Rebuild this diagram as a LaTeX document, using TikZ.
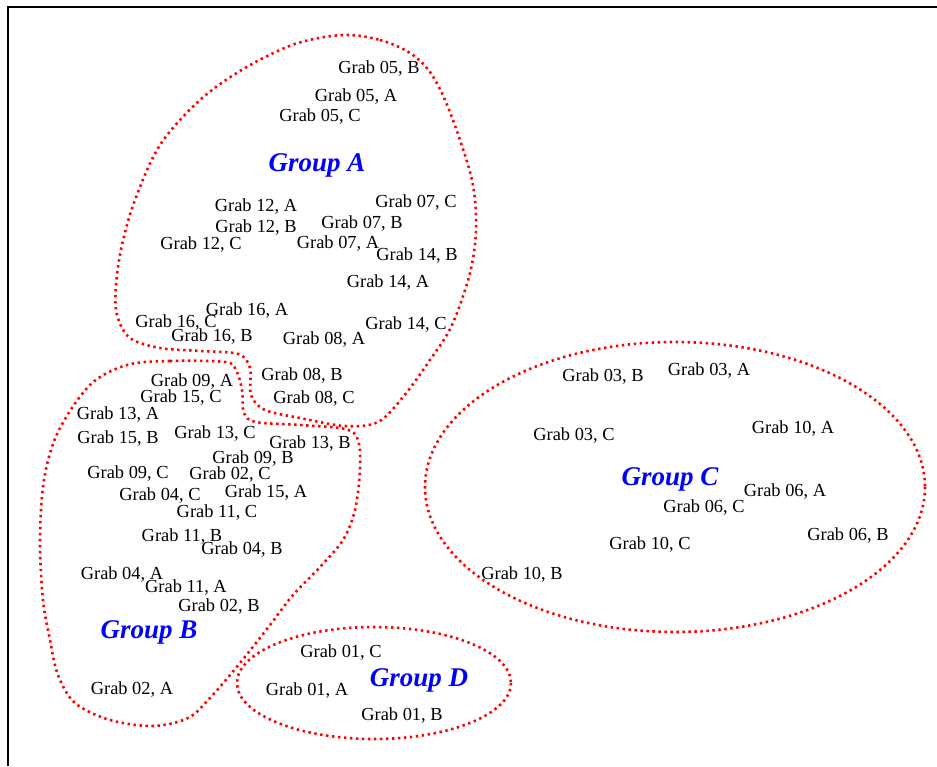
\documentclass[tikz,border=0pt]{standalone}
\usepackage{fontspec}
\setmainfont{Liberation Serif}
\usetikzlibrary{calc}

\begin{document}
\begin{tikzpicture}[x=0.5pt,y=-0.5pt]

    \tikzset{
      grab/.style={
        inner sep=0pt,
        anchor=center,
        yshift=-1pt,
        font=\fontsize{9.2}{11}\selectfont,
      },
      grouplabel/.style={
        inner sep=0pt,
        anchor=center,
        yshift=-1pt,
        text={blue},
        font=\fontsize{13.5}{16}\selectfont\bfseries\itshape,
      },
      grouprim/.style={
        color={red},
        line width=1.3pt,
        dash pattern=on 1.2pt off 1.8pt,
      },
    }
    \useasboundingbox (0,0) rectangle (937,766);
	\draw[line width=0.9pt] (8,766)--(8,7)--(937,7);
	% group A
	\node[grab] (g05b) at (379,67) {Grab 05, B};
	\node[grab] (g05a) at (356,95) {Grab 05, A};
	\node[grab] (g05c) at (320,115) {Grab 05, C};
	\node[grouplabel] (grpa) at (317,163) {Group A};
	\node[grab] (g12a) at (256,205) {Grab 12, A};
	\node[grab] (g12b) at (256,226) {Grab 12, B};
	\node[grab] (g12c) at (201,243) {Grab 12, C};
	\node[grab] (g07c) at (416,201) {Grab 07, C};
	\node[grab] (g07b) at (362,222) {Grab 07, B};
	\node[grab] (g07a) at (338,242) {Grab 07, A};
	\node[grab] (g14b) at (417,254) {Grab 14, B};
	\node[grab] (g14a) at (388,281) {Grab 14, A};
	\node[grab] (g16a) at (247,309) {Grab 16, A};
	\node[grab] (g16c) at (176,321) {Grab 16, C};
	\node[grab] (g16b) at (212,335) {Grab 16, B};
	\node[grab] (g08a) at (324,338) {Grab 08, A};
	\node[grab] (g14c) at (406,323) {Grab 14, C};
	\node[grab] (g08b) at (302,374) {Grab 08, B};
	\node[grab] (g08c) at (314,397) {Grab 08, C};
	% group B
	\node[grab] (g09a) at (192,380) {Grab 09, A};
	\node[grab] (g15c) at (181,396) {Grab 15, C};
	\node[grab] (g13a) at (118,413) {Grab 13, A};
	\node[grab] (g15b) at (118,437) {Grab 15, B};
	\node[grab] (g13c) at (215,432) {Grab 13, C};
	\node[grab] (g13b) at (310,442) {Grab 13, B};
	\node[grab] (g09b) at (253,457) {Grab 09, B};
	\node[grab] (g09c) at (128,472) {Grab 09, C};
	\node[grab] (g02c) at (230,473) {Grab 02, C};
	\node[grab] (g04c) at (160,494) {Grab 04, C};
	\node[grab] (g15a) at (266,491) {Grab 15, A};
	\node[grab] (g11c) at (217,511) {Grab 11, C};
	\node[grab] (g11b) at (182,535) {Grab 11, B};
	\node[grab] (g04b) at (242,548) {Grab 04, B};
	\node[grab] (g04a) at (122,573) {Grab 04, A};
	\node[grab] (g11a) at (186,586) {Grab 11, A};
	\node[grab] (g02b) at (219,605) {Grab 02, B};
	\node[grouplabel] (grpb) at (149,630) {Group B};
	\node[grab] (g02a) at (132,688) {Grab 02, A};
	% group C
	\node[grab] (g03b) at (603,375) {Grab 03, B};
	\node[grab] (g03a) at (709,369) {Grab 03, A};
	\node[grab] (g03c) at (574,434) {Grab 03, C};
	\node[grab] (g10a) at (793,427) {Grab 10, A};
	\node[grouplabel] (grpc) at (670,477) {Group C};
	\node[grab] (g06a) at (785,490) {Grab 06, A};
	\node[grab] (g06c) at (704,506) {Grab 06, C};
	\node[grab] (g06b) at (848,534) {Grab 06, B};
	\node[grab] (g10c) at (650,543) {Grab 10, C};
	\node[grab] (g10b) at (522,573) {Grab 10, B};
	% group D
	\node[grab] (g01c) at (341,651) {Grab 01, C};
	\node[grouplabel] (grpd) at (419,678) {Group D};
	\node[grab] (g01a) at (307,689) {Grab 01, A};
	\node[grab] (g01b) at (402,714) {Grab 01, B};
	% outlines
	\draw[grouprim] plot[smooth cycle,tension=0.55] coordinates {(343,35) (380,40) (410,53) (430,72) (445,100) (460,140) (473,185) (476,230) (470,273) (452,325) (430,360) (403,397) (378,422) (345,426) (300,418) (265,410) (251,395) (250,368) (238,354) (200,351) (160,348) (130,338) (117,315) (116,285) (122,245) (135,200) (160,145) (200,100) (245,68) (295,44)};
	\draw[grouprim] plot[smooth cycle,tension=0.55] coordinates {(127,365) (170,361) (225,362) (236,370) (242,390) (244,413) (256,422) (300,425) (345,429) (358,440) (360,470) (355,510) (343,540) (320,567) (293,595) (270,625) (240,663) (210,698) (188,718) (153,726) (110,720) (75,703) (58,675) (50,640) (43,600) (40,540) (44,480) (58,432) (90,385)};
	\draw[grouprim] (675,487) ellipse [x radius=250, y radius=145];
	\draw[grouprim] (374,683) ellipse [x radius=137, y radius=56];

\end{tikzpicture}
\end{document}
